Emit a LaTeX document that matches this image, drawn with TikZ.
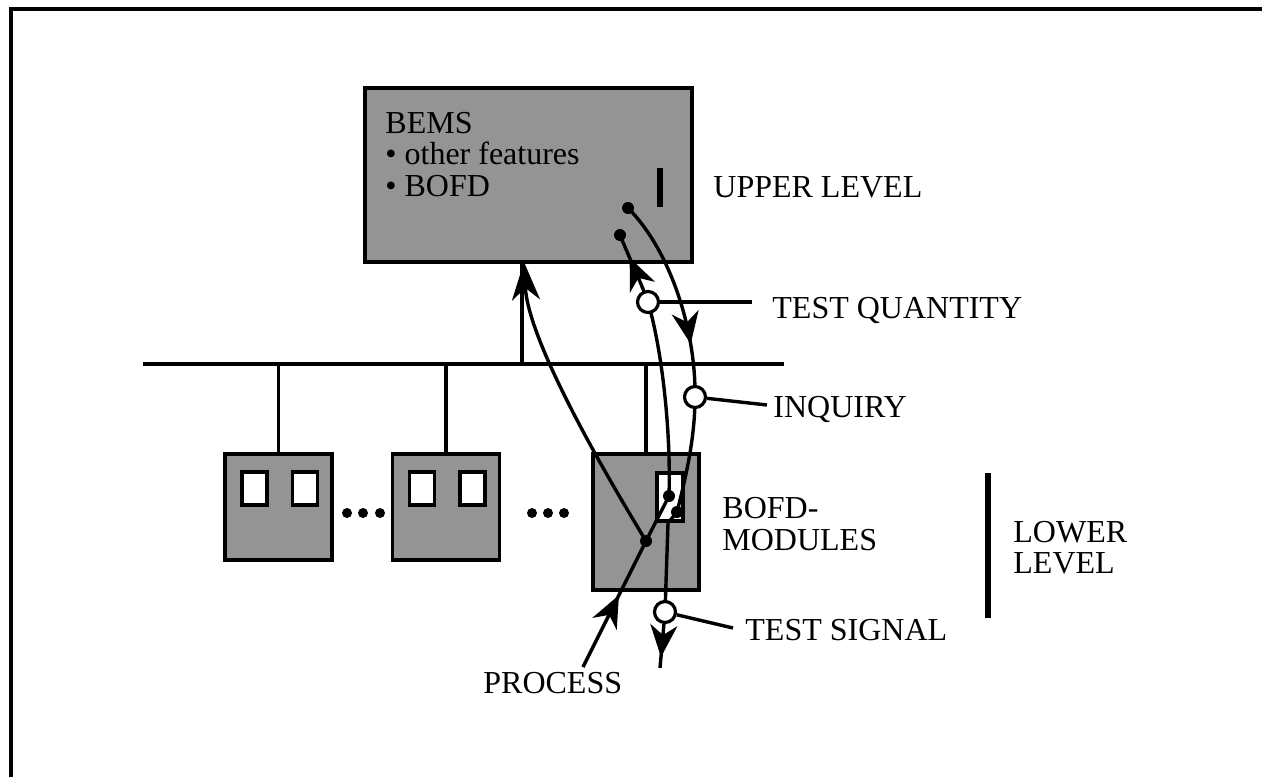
\documentclass[tikz,border=0pt]{standalone}
\usepackage{fontspec}
\setmainfont{Liberation Serif}
\usetikzlibrary{arrows.meta,decorations.markings}
\begin{document}
\begin{tikzpicture}[x=0.5pt,y=-0.5pt,
  conn/.style={line width=1.7pt},
  box/.style={draw, line width=1.6pt, fill=black!42, inner sep=0pt},
  win/.style={draw, line width=1.6pt, fill=white, inner sep=0pt},
  ring/.style={circle, draw, line width=1.6pt, fill=white, minimum size=10.5pt, inner sep=0pt},
  blob/.style={circle, fill=black, minimum size=6pt, inner sep=0pt},
  edot/.style={circle, fill=black, minimum size=5pt, inner sep=0pt},
  lbl/.style={font=\fontsize{16pt}{19pt}\selectfont, inner sep=0pt, anchor=base west},
  midarrow/.style={postaction={decorate}, decoration={markings,
      mark=at position #1 with {\arrow{Stealth[length=16pt,width=13.5pt,inset=5pt]}}}},
]
\useasboundingbox (0,0) rectangle (1262,777);
% frame
\coordinate (fbl) at (11,777);
\coordinate (ftl) at (11,9);
\coordinate (ftr) at (1262,9);
\draw[line width=1.7pt] (fbl) -- (ftl) -- (ftr);

% boxes
\node[box, minimum width=163.5pt, minimum height=87pt] (bems) at (528.5,175) {};
\node[box, minimum width=53.5pt, minimum height=53pt] (mod1) at (278.5,507) {};
\node[box, minimum width=53.5pt, minimum height=53pt] (mod2) at (446,507) {};
\node[box, minimum width=53pt, minimum height=68pt] (mod3) at (646,522) {};
\node[win, minimum width=12.5pt, minimum height=16.5pt] (w11) at (254.5,488.5) {};
\node[win, minimum width=12.5pt, minimum height=16.5pt] (w12) at (305,488.5) {};
\node[win, minimum width=12.5pt, minimum height=16.5pt] (w21) at (422,488.5) {};
\node[win, minimum width=12.5pt, minimum height=16.5pt] (w22) at (472.5,488.5) {};
\node[win, minimum width=13pt, minimum height=24pt] (w3) at (670,497) {};

% ellipsis dots
\node[edot] (e1) at (347,513) {};
\node[edot] (e2) at (363,513) {};
\node[edot] (e3) at (380,513) {};
\node[edot] (e4) at (532,513) {};
\node[edot] (e5) at (548,513) {};
\node[edot] (e6) at (564,513) {};

% bus
\coordinate (busL) at (143,364);
\coordinate (busR) at (784,364);
\draw[conn] (busL) -- (busR);
\draw[conn] (mod1.north) -- (mod1.north |- busL);
\draw[conn] (mod2.north) -- (mod2.north |- busL);
\draw[conn] (mod3.north) -- (mod3.north |- busL);
\coordinate (riserB) at (522,364);
\coordinate (riserT) at (522,262);
\draw[conn] (riserB) -- (riserT);

% key points
\coordinate (d0) at (628,208);
\coordinate (d1) at (620,235);
\coordinate (mP) at (646,541);
\coordinate (mA) at (669,496);
\coordinate (mB) at (677,512);
\coordinate (cqc) at (648,302);
\coordinate (cic) at (695,397);
\coordinate (csc) at (665,612);
\coordinate (procS) at (583,667);
\coordinate (bemsIn) at (524,262);
\coordinate (wcorner) at (668,523);
\coordinate (tsEnd) at (660,668);
\coordinate (barT) at (660,168);
\coordinate (barB) at (660,207);

% small bar in BEMS
\draw[line width=2.6pt] (barT) -- (barB);

% process path
\draw[conn, midarrow=0.57] (procS) -- (mP);
\draw[conn, -{Stealth[length=19pt,width=14pt,inset=6pt]}] (mP) .. controls (600,465) and (528,340) .. (bemsIn);
\draw[conn] (mP) -- (mA);

% test quantity path (up)
\draw[conn] (mA) .. controls (671,430) and (662,350) .. (cqc);
\draw[conn, midarrow=0.66] (cqc) .. controls (640,280) and (628,255) .. (d1);

% inquiry path (down)
\draw[conn, midarrow=0.74] (d0) .. controls (670,250) and (696,330) .. (cic);
\draw[conn] (cic) .. controls (695,440) and (685,480) .. (mB);

% test signal path
\draw[conn] (mB) -- (wcorner) -- (csc);

% dots
\node[blob] (n0) at (d0) {};
\node[blob] (n1) at (d1) {};
\node[blob] (nP) at (mP) {};
\node[blob] (nA) at (mA) {};
\node[blob] (nB) at (mB) {};

% rings
\node[ring] (cq) at (cqc) {};
\node[ring] (ci) at (cic) {};
\node[ring] (cs) at (csc) {};

\draw[conn, midarrow=0.75] (cs) -- (tsEnd);

% label leaders
\coordinate (tqL) at (752,302);
\coordinate (inL) at (767,405);
\coordinate (tsL) at (733,628);
\draw[conn] (cq) -- (tqL);
\draw[conn] (ci) -- (inL);
\draw[conn] (cs) -- (tsL);

% lower level bar
\coordinate (llT) at (988,473);
\coordinate (llB) at (988,618);
\draw[line width=2.6pt] (llT) -- (llB);

% texts
\node[lbl] (t1) at (385,133) {BEMS};
\node[lbl] (t2) at (385,164) {\textbullet\ other features};
\node[lbl] (t3) at (385,196) {\textbullet\ BOFD};
\node[lbl] (tu) at (713,197) {UPPER LEVEL};
\node[lbl] (ttq) at (772,318) {TEST QUANTITY};
\node[lbl] (tin) at (773,417) {INQUIRY};
\node[lbl] (tb1) at (722,518) {BOFD-};
\node[lbl] (tb2) at (722,550) {MODULES};
\node[lbl] (tl1) at (1013,542) {LOWER};
\node[lbl] (tl2) at (1013,573) {LEVEL};
\node[lbl] (tts) at (745,640) {TEST SIGNAL};
\node[lbl] (tpr) at (483,693) {PROCESS};
\end{tikzpicture}
\end{document}
